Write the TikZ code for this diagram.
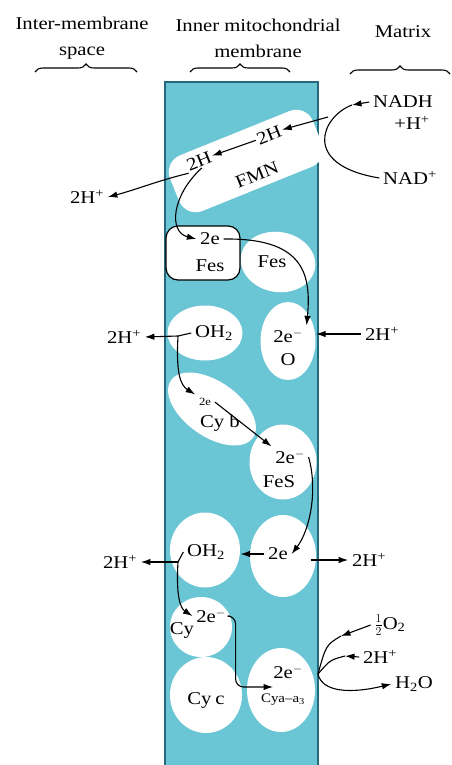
\documentclass[tikz,border=0pt]{standalone}
\usepackage{fontspec}
\setmainfont{Liberation Serif}[FakeStretch=1.15]
\usetikzlibrary{shapes.geometric,decorations.pathreplacing,arrows.meta}
\definecolor{membfill}{RGB}{106,197,213}
\definecolor{membline}{RGB}{38,104,124}

\begin{document}
\begin{tikzpicture}[x=1pt, y=-1pt, >={Latex[length=9.5pt,width=6.5pt]},
  font=\fontsize{18}{22}\selectfont,
  blob/.style={ellipse, fill=white, inner sep=0pt},
  hdr/.style={align=center, font=\fontsize{18}{26}\selectfont},
  small/.style={font=\fontsize{13}{15}\selectfont},
  tiny/.style={font=\fontsize{11}{13}\selectfont},
  membrace/.style={decorate, decoration={brace, amplitude=8pt}, line width=1.1pt},
  every path/.style={line width=1.1pt}]
\useasboundingbox (0,0) rectangle (452,765);
% membrane
\draw[membline, fill=membfill, line width=1.5pt] (165,82) rectangle (318,775);

% headers
\node[hdr] (hInter) at (82,38) {Inter-membrane\\space};
\node[hdr] (hInner) at (258,38) {Inner mitochondrial\\membrane};
\node[hdr] (hMatrix) at (403,32) {Matrix};
\draw[membrace] (35,72) -- (137,72);
\draw[membrace] (190,72) -- (290,72);
\draw[membrace] (350,74) -- (450,74);

% white blobs
\fill[white, rounded corners=18pt, rotate around={22:(246,161)}] (169,131) rectangle (323,191);
\node[blob, minimum width=75, minimum height=60, rotate=-10] (fesB) at (278,262) {};
\node[blob, minimum width=75, minimum height=55] (ohB1) at (205,333) {};
\node[blob, minimum width=55, minimum height=78] (oB) at (288,341) {};
\node[blob, minimum width=100, minimum height=55, rotate=-35] (cybB) at (212,409) {};
\node[blob, minimum width=67, minimum height=75] (fsB) at (283,462) {};
\node[blob, minimum width=70, minimum height=75] (ohB2) at (205,550) {};
\node[blob, minimum width=66, minimum height=82] (e2B) at (283,556) {};
\node[blob, minimum width=62, minimum height=60] (cyB) at (201,627) {};
\node[blob, minimum width=72, minimum height=76] (cycB) at (206,695) {};
\node[blob, minimum width=68, minimum height=84] (cyaB) at (281,690) {};
\node[draw, fill=white, rounded corners=12pt, line width=1.2pt, minimum width=74, minimum height=54] (fesBox) at (203,253) {};

% texts in the membrane
\node[rotate=22, inner sep=1pt] (fmnA) at (269,135) {2H};
\node[rotate=22, inner sep=1pt] (fmnC) at (199,161) {2H};
\node[rotate=22, inner sep=1pt] (fmn) at (257,175) {FMN};
\node (fesE) at (210,239) {2e};
\node (fesT) at (210,266) {Fes};
\node (fes2) at (272,262) {Fes};
\node (oh1) at (214,333) {OH\textsubscript{2}};
\node (oE) at (288,336) {2e$^{-}$};
\node (oT) at (288,360) {O};
\node[tiny] (cybE) at (205,402) {2e};
\node (cybT) at (220,423) {Cy b};
\node (fsE) at (290,457) {2e$^{-}$};
\node (fsT) at (279,482) {FeS};
\node (oh2) at (206,552) {OH\textsubscript{2}};
\node (e2) at (278,554) {2e};
\node (cyT) at (182,630) {Cy};
\node (cyE) at (211,616) {2e$^{-}$};
\node (cycT) at (206,700) {Cy\hspace{4pt}c};
\node (cyaE) at (288,672) {2e$^{-}$};
\node[small] (cyaT) at (283,700) {Cya--a\textsubscript{3}};

% texts outside
\node (nadh) at (403,102) {NADH};
\node (nadhH) at (412,123) {+H\textsuperscript{+}};
\node (nad) at (410,178) {NAD\textsuperscript{+}};
\node (hL1) at (87,197) {2H\textsuperscript{+}};
\node (hL2) at (124,337) {2H\textsuperscript{+}};
\node (hR1) at (382,334) {2H\textsuperscript{+}};
\node (hL3) at (120,562) {2H\textsuperscript{+}};
\node (hR2) at (369,560) {2H\textsuperscript{+}};
\node (o2) at (390,625) {$\frac{1}{2}$O\textsubscript{2}};
\node (hR3) at (380,657) {2H\textsuperscript{+}};
\node (h2o) at (414,684) {H\textsubscript{2}O};

% junctions
\coordinate (tipN) at (352,105);
\coordinate (jN) at (328,117);
\coordinate (c1) at (178,336);
\coordinate (c2) at (178,562);
\coordinate (cyaIn) at (273,687);
\coordinate (mO1) at (341,636);
\coordinate (mO2) at (345,656);
\coordinate (jO) at (318,674);

% NADH / FMN
\draw[->] (nadh.west) -- (tipN);
\draw (tipN) .. controls (322,116) and (300,165) .. (nad.west);
\draw[->] (jN) -- (fmnA.east);
\draw[->] (fmnA.west) -- (fmnC.east);
\draw[->] (fmnC.south west) .. controls (160,180) and (135,190) .. (hL1.east);
\draw[->] (fmnC.south) .. controls (172,195) and (168,232) .. (fesE.west);

% Fes -> O
\draw[->] (fesE.east) .. controls (300,238) and (312,270) .. (oE.north east);
\draw[->] (hR1.west) -- (hR1.west -| oB.east);

% OH2 -> Cy b -> FeS
\draw (oh1.west) -- (c1);
\draw[->] (c1) -- (hL2.east);
\draw[->] (c1) .. controls (176,372) and (180,385) .. (cybE.north west);
\draw[->] (cybE.east) -- (fsE.north west);
\draw[->] (fsE.east) .. controls (318,490) and (310,530) .. (e2.east);

% lower row
\draw[->] (e2.west) -- (e2.west -| ohB2.east);
\draw[->] ([xshift=-6pt]hR2.west -| e2B.east) -- (hR2.west);
\draw (oh2.west) -- (c2);
\draw[->] (c2) -- (hL3.east);
\draw[->] (c2) .. controls (176,595) and (180,608) .. (cyE.west);
\draw[->, rounded corners=8pt] (cyE.east) -- ++(6,0) |- (cyaIn);

% oxygen side
\draw[->] (o2.west) -- (mO1);
\draw (mO1) .. controls (326,645) .. (jO);
\draw[->] (hR3.west) -- (mO2);
\draw (mO2) .. controls (330,660) .. (jO);
\draw[->] (jO) .. controls (322,692) and (350,694) .. (h2o.west);
\end{tikzpicture}
\end{document}
